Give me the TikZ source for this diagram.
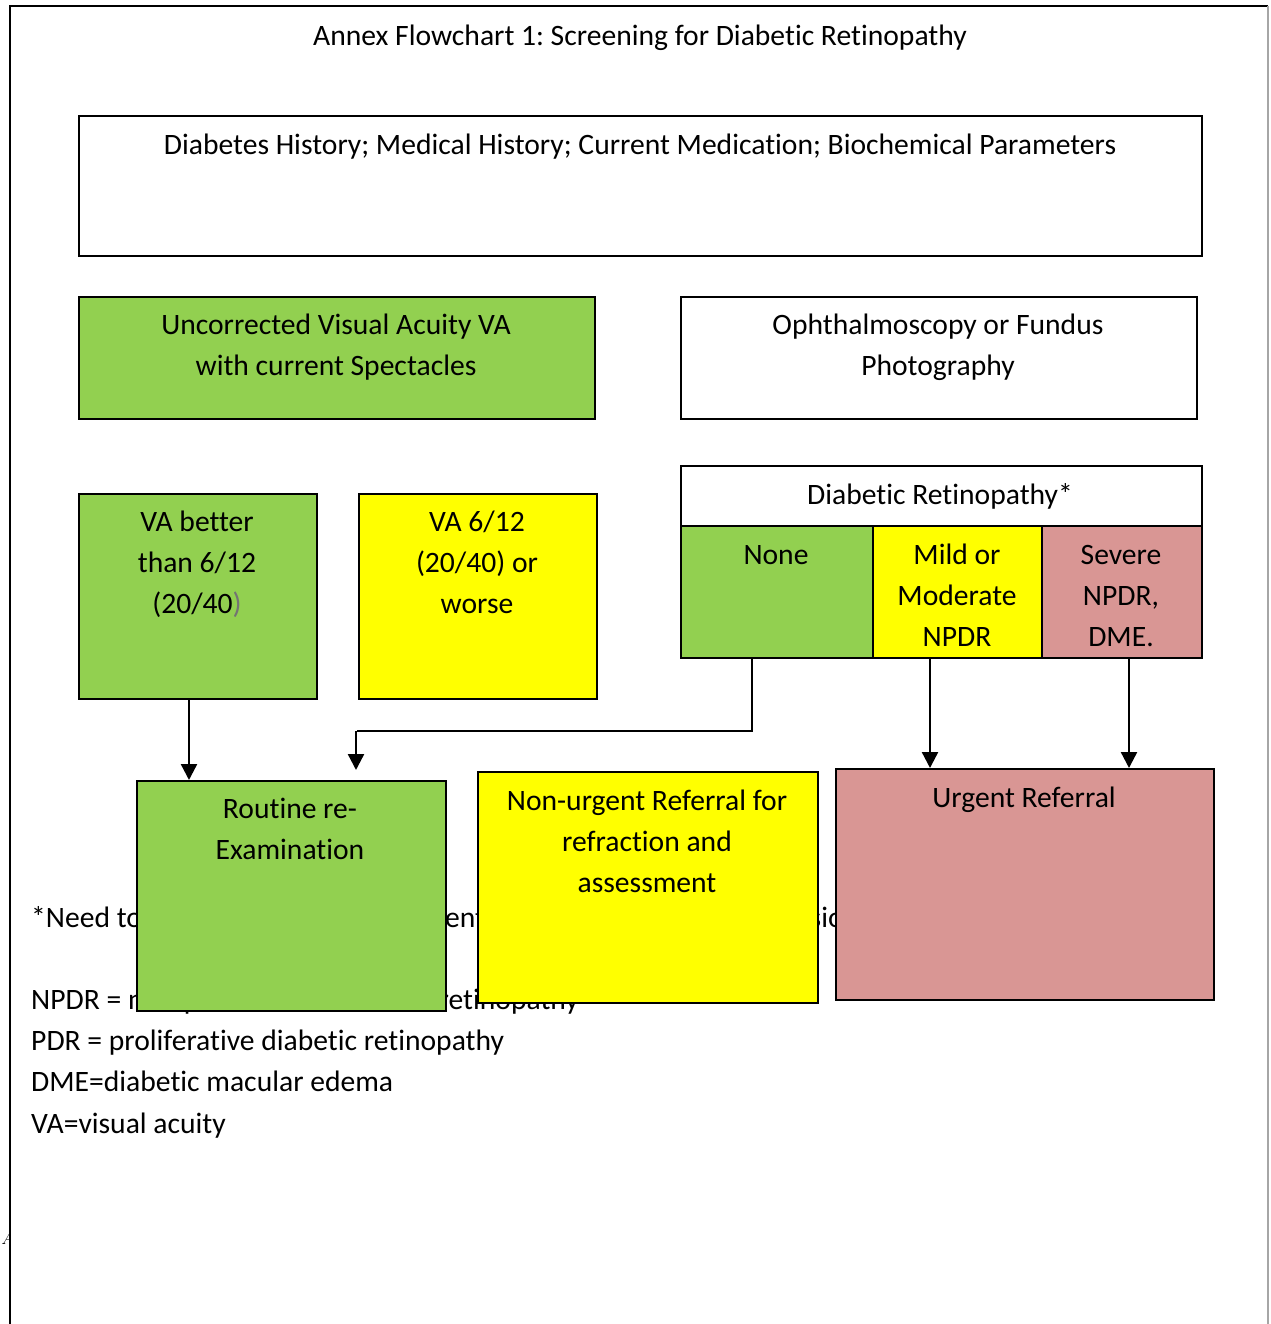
\documentclass[tikz,border=0pt]{standalone}
\usepackage{fontspec}
\setmainfont{Carlito}[Ligatures={NoCommon}]
\usetikzlibrary{arrows.meta,calc}
\definecolor{grn}{HTML}{92D050}
\definecolor{yel}{HTML}{FFFF00}
\definecolor{pnk}{HTML}{D99694}
\begin{document}
\frenchspacing
\begin{tikzpicture}[x=1pt,y=-1pt,
  box/.style={draw=black,line width=2.2pt,anchor=north west,inner sep=0pt},
  txt/.style={font=\fontsize{29.6}{41.3}\selectfont,align=center,inner sep=0pt,anchor=north},
  note/.style={font=\fontsize{29.6}{41.3}\selectfont,align=left,inner sep=0pt,anchor=north west},
  arr/.style={line width=2.4pt,-{Triangle[length=16pt,width=16pt]}}
]
\useasboundingbox (0,0) rectangle (1270,1324);
\fill[white] (0,0) rectangle (1270,1324);
% frame
\draw[line width=2pt] (10,1324) -- (10,6) -- (1268,6);
\draw[line width=1.2pt,gray!70] (1268,6) -- (1268,1324);
% stray glyph at left edge
\begin{scope}
\clip (0,1220) rectangle (9,1250);
\node[inner sep=0pt,anchor=base west,font=\fontsize{18}{20}\selectfont\itshape] (stray) at (1,1244) {\fontspec{Latin Modern Roman}A};
\end{scope}
% title
\node[txt] (title) at (640,19) {\rule{0pt}{26pt}Annex Flowchart 1: Screening for Diabetic Retinopathy};
% notes (partly covered by boxes)
\node[note] (note1) at (31,901) {\rule{0pt}{26pt}*Need to refer for further assessment if there is sudden loss of vision};
\node[note] (defs) at (31,983) {\rule{0pt}{26pt}NPDR = non-proliferative diabetic retinopathy\\PDR = proliferative diabetic retinopathy\\DME=diabetic macular edema\\VA=visual acuity};
% boxes
\node[box,minimum width=1123pt,minimum height=140pt] (hist) at (78,115) {};
\node[txt] (histt) at (640,128) {\rule{0pt}{26pt}Diabetes History; Medical History; Current Medication; Biochemical Parameters};
\node[box,fill=grn,minimum width=516pt,minimum height=122pt] (vau) at (78,296) {};
\node[txt] (vaut) at (336,308) {\rule{0pt}{26pt}Uncorrected Visual Acuity VA\\with current Spectacles};
\node[box,minimum width=516pt,minimum height=122pt] (oph) at (680,296) {};
\node[txt] (opht) at (938,308) {\rule{0pt}{26pt}Ophthalmoscopy or Fundus\\Photography};
\node[box,fill=grn,minimum width=238pt,minimum height=205pt] (vab) at (78,493) {};
\node[txt] (vabt) at (197,505) {\rule{0pt}{26pt}VA better\\than 6/12\\(20/40{\color{black!55})}};
\node[box,fill=yel,minimum width=238pt,minimum height=205pt] (vaw) at (358,493) {};
\node[txt] (vawt) at (477,505) {\rule{0pt}{26pt}VA 6/12\\(20/40) or\\worse};
\node[box,minimum width=521pt,minimum height=60pt] (drh) at (680,465) {};
\node[txt] (drht) at (940,478) {\rule{0pt}{26pt}Diabetic Retinopathy*};
\node[box,fill=grn,minimum width=192pt,minimum height=132pt] (none) at (680,525) {};
\node[txt] (nonet) at (776,538) {\rule{0pt}{26pt}None};
\node[box,fill=yel,minimum width=169pt,minimum height=132pt] (mild) at (872,525) {};
\node[txt] (mildt) at (957,538) {\rule{0pt}{26pt}Mild or\\Moderate\\NPDR};
\node[box,fill=pnk,minimum width=160pt,minimum height=132pt] (sev) at (1041,525) {};
\node[txt] (sevt) at (1121,538) {\rule{0pt}{26pt}Severe\\NPDR,\\DME.};
\node[box,fill=grn,minimum width=309pt,minimum height=230pt] (rout) at (136,780) {};
\node[txt] (routt) at (290,792) {\rule{0pt}{26pt}Routine re-\\Examination};
\node[box,fill=yel,minimum width=340pt,minimum height=231pt] (nonurg) at (477,771) {};
\node[txt] (nonurgt) at (647,784) {\rule{0pt}{26pt}Non-urgent Referral for\\refraction and\\assessment};
\node[box,fill=pnk,minimum width=378pt,minimum height=231pt] (urg) at (835,768) {};
\node[txt] (urgt) at (1024,781) {\rule{0pt}{26pt}Urgent Referral};
% connectors
\draw[arr] ([xshift=111pt]vab.south west) -- ([xshift=111pt]vab.south west |- rout.north);
\coordinate (bend) at (357,731);
\coordinate (noneend) at (356,770);
\draw[line width=2pt] ([xshift=72pt]none.south west) |- (bend);
\draw[arr] (356,731) -- (noneend);
\draw[arr] ([xshift=58pt]mild.south west) -- ([xshift=58pt]mild.south west |- urg.north);
\draw[arr] ([xshift=88pt]sev.south west) -- ([xshift=88pt]sev.south west |- urg.north);
\end{tikzpicture}
\end{document}
